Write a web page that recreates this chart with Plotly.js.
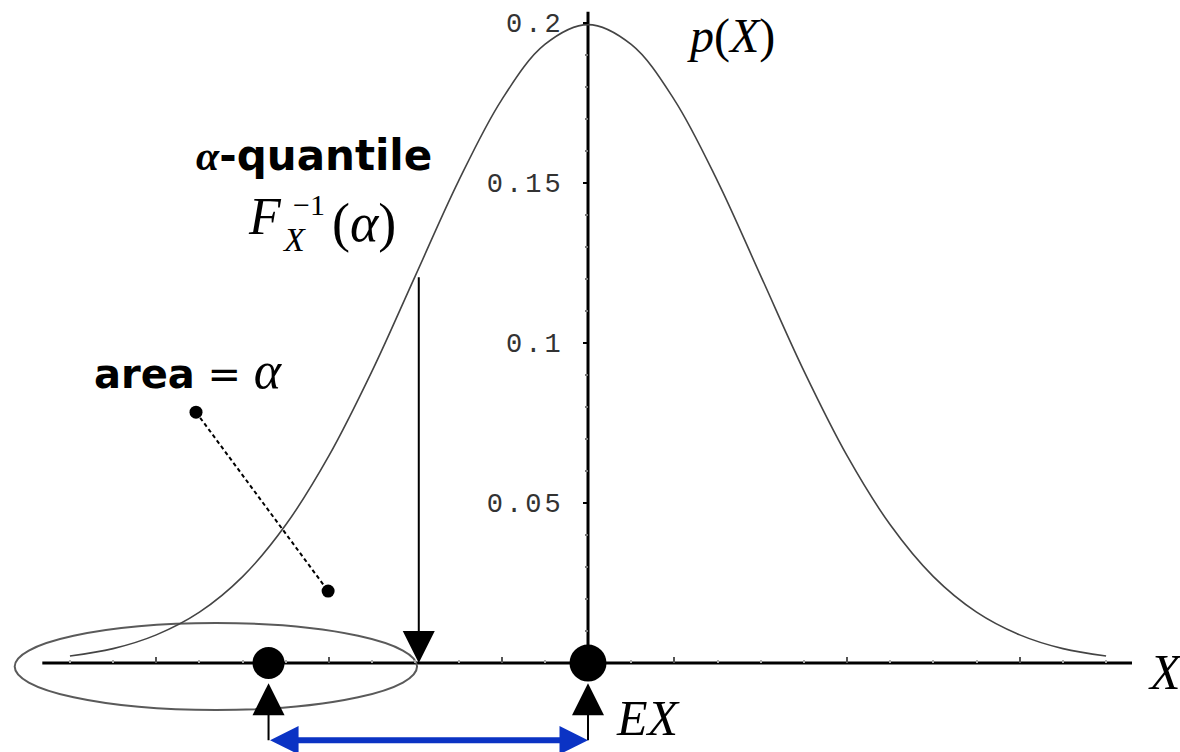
<!DOCTYPE html>
<html>
<head>
<meta charset="utf-8">
<script src="https://cdn.plot.ly/plotly-3.0.1.min.js"></script>
<style>
  html, body { margin: 0; padding: 0; background: #fff; }
  #chart { width: 1180px; height: 752px; }
  .ytick text { letter-spacing: 3px; }
</style>
</head>
<body>
<div id="chart"></div>
<script>
// Density p(X) sampled every half unit, centred on EX = 0
const xGrid = [-6, -5.5, -5, -4.5, -4, -3.5, -3, -2.5, -2, -1.5, -1, -0.5, 0,
               0.5, 1, 1.5, 2, 2.5, 3, 3.5, 4, 4.5, 5, 5.5, 6];
const density = [0.0022, 0.0045, 0.0088, 0.0159, 0.0270, 0.0432, 0.0648, 0.0913, 0.1210,
                 0.1506, 0.1760, 0.1933, 0.1995, 0.1933, 0.1760, 0.1506, 0.1210, 0.0913,
                 0.0648, 0.0432, 0.0270, 0.0159, 0.0088, 0.0045, 0.0022];

// Axis ticks
const yTickVals = [0.05, 0.1, 0.15, 0.2];
const yTickText = ['0.05', '0.1', '0.15', '0.2'];
const yMinorVals = [0.01, 0.02, 0.03, 0.04, 0.06, 0.07, 0.08, 0.09, 0.11, 0.12, 0.13, 0.14,
                    0.16, 0.17, 0.18, 0.19];
const xTickVals = [-5, -3, -1, 1, 3, 5];
const xMinorVals = [-6, -5.5, -4.5, -4, -3.5, -2.5, -2, -1.5, -0.5, 0.5, 1.5, 2, 2.5, 3.5, 4, 4.5, 5.5, 6];

// Key points
const meanX = 0;            // EX
const quantileX = -1.96;    // F_X^{-1}(alpha)
const quantileY = 0.121;    // density at the quantile
const tailMeanX = -3.70;    // marked point left of the quantile
const areaPointer = { x: [-4.54, -3.01], y: [0.0784, 0.0225] };

// Plot frame (data units)
const xRange = [-6.81, 6.856];
const yRange = [-0.0278, 0.2072];
const xAxisSpan = [-6.32, 6.30];
const yAxisTop = 0.2035;

const serif = 'Liberation Serif, Times New Roman, serif';
const sans = 'DejaVu Sans, sans-serif';

const dot = (x, y, size) => ({
  x: [x], y: [y], type: 'scatter', mode: 'markers', opacity: 1,
  marker: { color: '#000', size: size, opacity: 1, line: { width: 0 } },
  hoverinfo: 'skip'
});

const traces = [
  {
    x: xGrid, y: density, type: 'scatter', mode: 'lines',
    line: { color: '#444', width: 1.6, shape: 'spline', smoothing: 1 },
    hoverinfo: 'skip'
  },
  {
    x: areaPointer.x, y: areaPointer.y, type: 'scatter', mode: 'lines+markers',
    line: { color: '#000', width: 2, dash: '4px,3px' },
    marker: { color: '#000', size: 13, opacity: 1 },
    hoverinfo: 'skip'
  },
  dot(tailMeanX, 0, 32),
  dot(meanX, 0, 37)
];

const shapes = [
  // horizontal axis
  { type: 'line', layer: 'below', x0: xAxisSpan[0], x1: xAxisSpan[1], y0: 0, y1: 0,
    line: { color: '#000', width: 3 } },
  // vertical axis
  { type: 'line', layer: 'below', x0: meanX, x1: meanX, y0: 0, y1: yAxisTop,
    line: { color: '#000', width: 3 } },
  // ellipse around the lower tail
  { type: 'circle', layer: 'below', x0: -6.64, x1: -1.98, y0: -0.0147, y1: 0.0125,
    line: { color: '#5a5a5a', width: 2 } }
];

const arrow = (hx, hy, tx, ty, opts) => Object.assign({
  x: hx, y: hy, ax: tx, ay: ty, xref: 'x', yref: 'y', axref: 'x', ayref: 'y',
  text: '', showarrow: true, arrowhead: 2, arrowcolor: '#000', arrowwidth: 2,
  arrowsize: 3.2, standoff: 0, startstandoff: 0
}, opts || {});

const annotations = [
  // quantile pointer
  arrow(quantileX, 0, quantileX, quantileY),
  // upward pointers below the two dots
  arrow(tailMeanX, -0.0063, tailMeanX, -0.0246),
  arrow(meanX, -0.0063, meanX, -0.0246),
  // blue double arrow between the two points
  arrow(meanX, -0.0241, tailMeanX, -0.0241,
        { arrowcolor: '#0b33c4', arrowwidth: 6, arrowsize: 0.95, arrowside: 'end+start',
          startarrowhead: 2, startarrowsize: 0.95 }),

  // labels
  { x: 1.12, y: 0.1960, xref: 'x', yref: 'y', xanchor: 'left', yanchor: 'middle',
    text: '<i>p</i>(<i>X</i>)', showarrow: false, font: { family: serif, size: 48, color: '#000' } },
  { x: 6.46, y: -0.0028, xref: 'x', yref: 'y', xanchor: 'left', yanchor: 'middle',
    text: '<i>X</i>', showarrow: false, font: { family: serif, size: 50, color: '#000' } },
  { x: 0.30, y: -0.0172, xref: 'x', yref: 'y', xanchor: 'left', yanchor: 'middle',
    text: '<i>EX</i>', showarrow: false, font: { family: serif, size: 50, color: '#000' } },
  { x: -4.56, y: 0.1585, xref: 'x', yref: 'y', xanchor: 'left', yanchor: 'middle',
    text: '<span style="font-family:' + serif + '"><b><i>α</i></b></span><b>-quantile</b>',
    showarrow: false, font: { family: sans, size: 42, color: '#000' } },
  { x: -3.96, y: 0.1395, xref: 'x', yref: 'y', xanchor: 'left', yanchor: 'middle',
    text: '<i>F</i>', showarrow: false, font: { family: serif, size: 52, color: '#000' } },
  { x: -3.57, y: 0.1325, xref: 'x', yref: 'y', xanchor: 'left', yanchor: 'middle',
    text: '<i>X</i>', showarrow: false, font: { family: serif, size: 34, color: '#000' } },
  { x: -3.44, y: 0.1434, xref: 'x', yref: 'y', xanchor: 'left', yanchor: 'middle',
    text: '−1', showarrow: false, font: { family: serif, size: 30, color: '#000' } },
  { x: -2.99, y: 0.1375, xref: 'x', yref: 'y', xanchor: 'left', yanchor: 'middle',
    text: '(<i>α</i>)', showarrow: false, font: { family: serif, size: 54, color: '#000' } },
  { x: -5.75, y: 0.0913, xref: 'x', yref: 'y', xanchor: 'left', yanchor: 'middle',
    text: '<b>area</b> = <span style="font-family:' + serif + ';font-size:52px"><i>α</i></span>',
    showarrow: false, font: { family: sans, size: 40, color: '#000' } }
];

const xPos = (0 - yRange[0]) / (yRange[1] - yRange[0]);
const yPos = (meanX - xRange[0]) / (xRange[1] - xRange[0]);

const layout = {
  width: 1180, height: 752,
  margin: { l: 0, r: 0, t: 0, b: 0, pad: 0 },
  paper_bgcolor: '#fff', plot_bgcolor: '#fff',
  showlegend: false,
  xaxis: {
    range: xRange, anchor: 'free', position: xPos,
    showline: false, zeroline: false, showgrid: false, showticklabels: false,
    tickmode: 'array', tickvals: xTickVals, ticks: 'inside', ticklen: 6, tickwidth: 2, tickcolor: '#555',
    minor: { tickmode: 'array', tickvals: xMinorVals, ticks: 'inside', ticklen: 3, tickwidth: 2, tickcolor: '#aaa' }
  },
  yaxis: {
    range: yRange, anchor: 'free', position: yPos,
    showline: false, zeroline: false, showgrid: false,
    tickmode: 'array', tickvals: yTickVals, ticktext: yTickText,
    ticks: 'outside', ticklen: 5, tickwidth: 2, tickcolor: '#000',
    ticklabelstandoff: 14,
    tickfont: { family: 'Liberation Mono, Courier New, monospace', size: 27, color: '#333' },
    minor: { tickmode: 'array', tickvals: yMinorVals, ticks: 'outside', ticklen: 3, tickwidth: 2, tickcolor: '#777' }
  },
  shapes: shapes,
  annotations: annotations
};

Plotly.newPlot('chart', traces, layout, { staticPlot: true, displayModeBar: false });
</script>
</body>
</html>
